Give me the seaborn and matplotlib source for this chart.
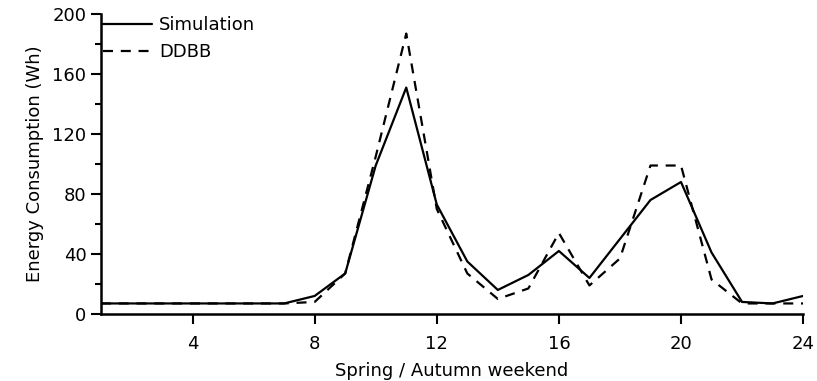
import matplotlib
matplotlib.use("Agg")
import matplotlib.pyplot as plt
import seaborn as sns
import pandas as pd
from matplotlib.ticker import MultipleLocator

hours = list(range(1, 25))
simulation = [7, 7, 7, 7, 7, 7, 7, 12, 27, 99, 151, 73, 35, 16, 26, 42, 24, 50, 76, 88, 41, 8, 7, 12]
ddbb = [7, 7, 7, 7, 7, 7, 7, 8, 27, 105, 187, 70, 27, 10, 17, 54, 19, 37, 99, 99, 23, 7, 7, 7]
xticks = [4, 8, 12, 16, 20, 24]
yticks = [0, 40, 80, 120, 160, 200]

sns.set_theme(style="ticks")
plt.rcParams['font.family'] = ['DejaVu Sans']
plt.rcParams['text.color'] = 'black'

df = pd.DataFrame({
    "hour": hours * 2,
    "value": simulation + ddbb,
    "series": ["Simulation"] * len(hours) + ["DDBB"] * len(hours),
})

fig = plt.figure(figsize=(8.17, 3.81), dpi=100)
ax = fig.add_axes([0.1236, 0.176, 0.983 - 0.1236, 0.963 - 0.176])

sns.lineplot(data=df[df.series == "Simulation"], x="hour", y="value", ax=ax,
             color="black", lw=1.6, label="Simulation")
sns.lineplot(data=df[df.series == "DDBB"], x="hour", y="value", ax=ax,
             color="black", lw=1.6, linestyle=(0, (4.5, 3.5)), label="DDBB")

ax.set_xlim(1, 24)
ax.set_ylim(0, 200)
ax.set_xticks(xticks)
ax.set_yticks(yticks)
ax.yaxis.set_minor_locator(MultipleLocator(20))
ax.tick_params(axis="both", which="major", length=7, width=1.5, labelsize=13, direction="out", colors="black")
ax.tick_params(axis="x", which="major", pad=8)
ax.tick_params(axis="y", which="minor", length=4, width=1.5, direction="out", colors="black")
for s in ["top", "right"]:
    ax.spines[s].set_visible(False)
for s in ["left", "bottom"]:
    ax.spines[s].set_linewidth(1.8)
    ax.spines[s].set_color("black")

ax.set_xlabel("Spring / Autumn weekend", fontsize=13, color="black", labelpad=7)
ax.set_ylabel("Energy Consumption (Wh)", fontsize=13, color="black", labelpad=6)

leg = ax.legend(loc="upper left", frameon=False, fontsize=13, handlelength=2.7,
                handletextpad=0.4, borderaxespad=0.0, borderpad=0.1, labelspacing=0.5)
for t in leg.get_texts():
    t.set_color("black")

fig.savefig("out.png", dpi=100)
